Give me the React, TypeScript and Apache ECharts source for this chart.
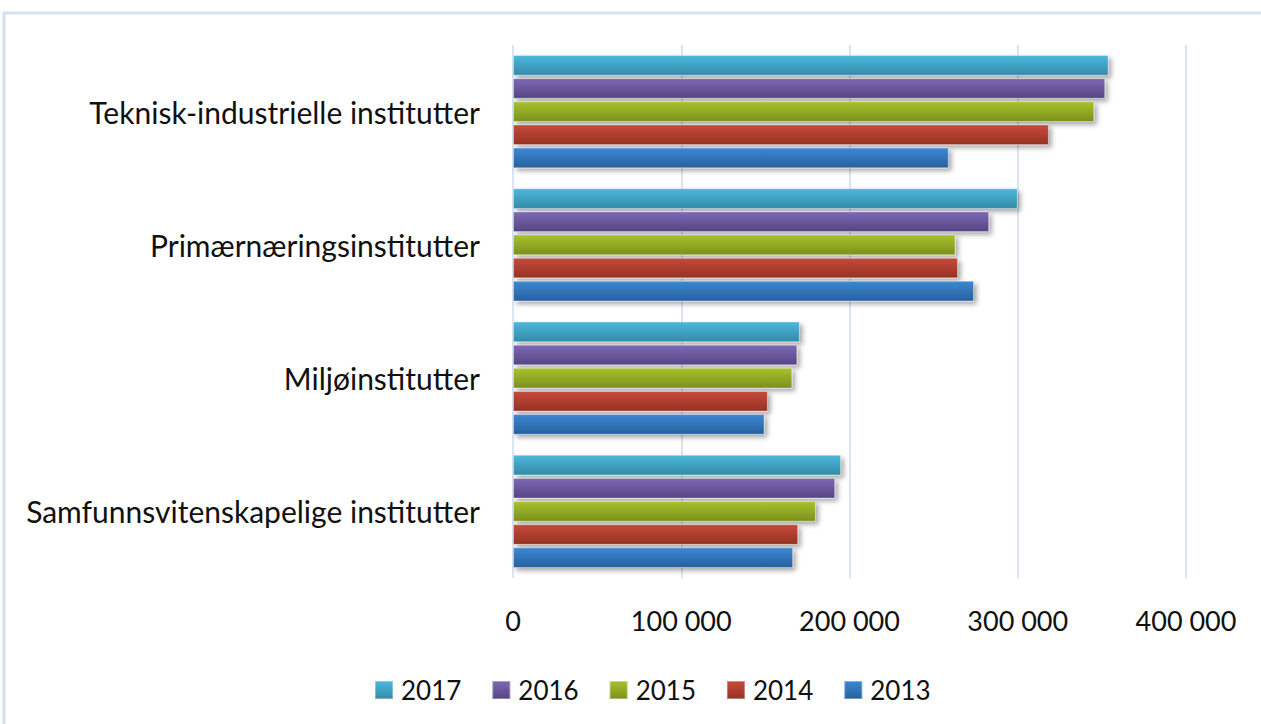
import React, { useEffect, useRef } from "react";
import * as echarts from "echarts";

const categories = [
  "Teknisk-industrielle institutter",
  "Primærnæringsinstitutter",
  "Miljøinstitutter",
  "Samfunnsvitenskapelige institutter",
];
const years = ["2017", "2016", "2015", "2014", "2013"];
const v2017 = [354000, 300000, 170500, 195000];
const v2016 = [352000, 283000, 169000, 191500];
const v2015 = [345500, 263000, 166000, 180000];
const v2014 = [318500, 264500, 151500, 169500];
const v2013 = [259000, 274000, 149500, 166500];
const seriesValues = [v2017, v2016, v2015, v2014, v2013];
const xTicks = [0, 100000, 200000, 300000, 400000];

const topColors = ["#4cb8dc", "#7d69b3", "#a9c22c", "#c64a3c", "#3b88d4"];
const bottomColors = ["#338ba8", "#564584", "#7b901c", "#963222", "#28609c"];

const FONT = "Lato, 'Noto Sans', sans-serif";

export default function App() {
  const ref = useRef<HTMLDivElement>(null);
  useEffect(() => {
    if (!ref.current) return;
    const chart = echarts.init(ref.current, undefined, { renderer: "svg" });
    const fmt = (v: number) =>
      String(v).replace(/\B(?=(\d{3})+(?!\d))/g, " ");
    chart.setOption({
      animation: false,
      backgroundColor: "#ffffff",
      graphic: [
        {
          type: "rect",
          shape: { x: 4, y: 13, width: 1400, height: 900 },
          style: { fill: "none", stroke: "#d3e1f1", lineWidth: 3 },
          silent: true,
        },
      ],
      grid: { left: 513, right: 75, top: 45, bottom: 146, containLabel: false },
      legend: {
        left: 369,
        top: 672,
        itemWidth: 18,
        itemHeight: 18,
        itemGap: 30,
        data: years,
        textStyle: {
          fontFamily: FONT,
          fontSize: 26,
          color: "#111111",
          padding: [0, 0, 0, 3],
        },
        icon: "rect",
      },
      xAxis: {
        type: "value",
        min: xTicks[0],
        max: xTicks[xTicks.length - 1],
        interval: 100000,
        axisLine: { show: false },
        axisTick: { show: false },
        splitLine: { show: true, lineStyle: { color: "#d9e5f4", width: 2 } },
        axisLabel: {
          margin: 29,
          fontFamily: FONT,
          fontSize: 27,
          color: "#111111",
          formatter: fmt,
        },
      },
      yAxis: {
        type: "category",
        data: categories,
        inverse: true,
        axisLine: { show: false },
        axisTick: { show: false },
        axisLabel: {
          margin: 33,
          fontFamily: FONT,
          fontSize: 30,
          color: "#111111",
        },
      },
      series: years.map((y, i) => ({
        name: y,
        type: "bar",
        data: seriesValues[i],
        barCategoryGap: "15%",
        barGap: "12%",
        itemStyle: {
          color: new echarts.graphic.LinearGradient(0, 0, 0, 1, [
            { offset: 0, color: topColors[i] },
            { offset: 1, color: bottomColors[i] },
          ]),
          borderColor: "rgba(255,255,255,0.35)",
          borderWidth: 1,
          shadowColor: "rgba(0,0,0,0.35)",
          shadowBlur: 5,
          shadowOffsetX: 3,
          shadowOffsetY: 3,
        },
      })),
    });
    return () => chart.dispose();
  }, []);
  return (
    <div
      ref={ref}
      style={{ position: "fixed", left: 0, top: 0, width: 1261, height: 724 }}
    />
  );
}
